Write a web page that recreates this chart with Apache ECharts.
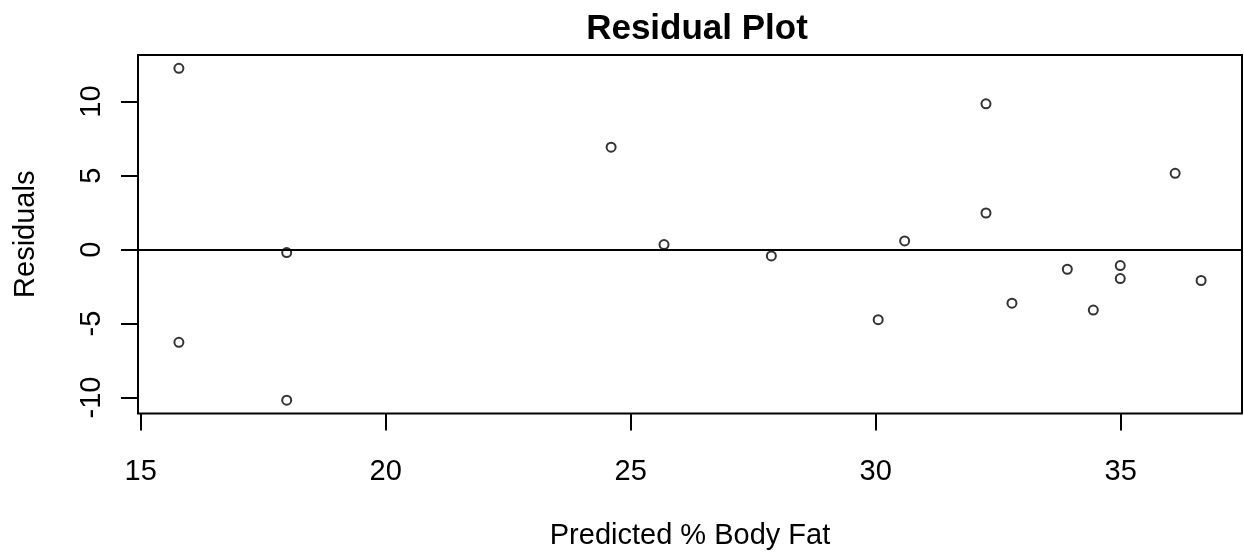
<html>
<head>
    <meta http-equiv="Content-Type" content="text/html; charset=utf-8" />
    <script type="text/javascript" src="https://cdn.jsdelivr.net/npm/echarts@6/dist/echarts.min.js"></script>
    <style>
        body { margin: 0; background: #fff; }
        #main { width: 1244px; height: 559px; }
    </style>
    <title>Residual Plot</title>
</head>
<body>
    <div id="main"></div>
    <script type="text/javascript">
        // predicted % body fat and residuals
        var predicted = [15.78, 15.78, 17.98, 17.98, 24.60, 25.68, 27.87, 30.05, 30.59, 32.25, 32.25, 32.78, 33.91, 34.44, 34.99, 34.99, 36.11, 36.64];
        var residuals = [12.25, -6.27, -0.20, -10.18, 6.92, 0.34, -0.43, -4.74, 0.58, 9.85, 2.47, -3.62, -1.33, -4.09, -1.08, -1.96, 5.15, -2.09];
        var xTicks = [15, 20, 25, 30, 35];
        var yTicks = [-10, -5, 0, 5, 10];

        var points = [];
        for (var i = 0; i < predicted.length; i++) {
            points.push([predicted[i], residuals[i]]);
        }

        // R style range: data range + 4% each side
        function padRange(arr) {
            var lo = Math.min.apply(null, arr), hi = Math.max.apply(null, arr);
            var d = (hi - lo) * 0.04;
            return [lo - d, hi + d];
        }
        var xr = padRange(predicted);
        var yr = padRange(residuals);

        var font = 'Liberation Sans, Arial, sans-serif';

        var option = {
            animation: false,
            title: {
                text: 'Residual Plot',
                left: 692,
                top: 7,
                textAlign: 'center',
                textStyle: { fontFamily: font, fontSize: 35, fontWeight: 'bold', color: '#000' }
            },
            grid: {
                left: 138, right: 2, top: 55, bottom: 145.5,
                show: true,
                borderColor: '#000',
                borderWidth: 2,
                containLabel: false,
                outerBoundsMode: 'none'
            },
            xAxis: {
                type: 'value',
                min: xr[0], max: xr[1],
                name: 'Predicted % Body Fat',
                nameLocation: 'middle',
                nameGap: 108,
                nameTextStyle: { fontFamily: font, fontSize: 29, color: '#000' },
                axisLine: { show: false, onZero: false },
                axisTick: { show: true, length: 17, customValues: xTicks, lineStyle: { color: '#000', width: 2 } },
                axisLabel: { customValues: xTicks, margin: 44, fontFamily: font, fontSize: 29, color: '#000' },
                splitLine: { show: false }
            },
            yAxis: {
                type: 'value',
                min: yr[0], max: yr[1],
                name: 'Residuals',
                nameLocation: 'middle',
                nameRotate: 90,
                nameGap: 98,
                nameTextStyle: { fontFamily: font, fontSize: 29, color: '#000' },
                axisLine: { show: false, onZero: false },
                axisTick: { show: true, length: 17, customValues: yTicks, lineStyle: { color: '#000', width: 2 } },
                axisLabel: { customValues: yTicks, rotate: 90, margin: 32, fontFamily: font, fontSize: 29, color: '#000' },
                splitLine: { show: false }
            },
            series: [{
                type: 'scatter',
                data: points,
                symbol: 'circle',
                symbolSize: 9,
                itemStyle: { color: 'transparent', borderColor: '#000', borderWidth: 2 },
                markLine: {
                    silent: true,
                    symbol: ['none', 'none'],
                    label: { show: false },
                    lineStyle: { color: '#000', width: 2, type: 'solid' },
                    data: [{ yAxis: 0 }]
                }
            }]
        };

        var myChart = echarts.init(document.getElementById('main'));
        myChart.setOption(option);
    </script>
</body>
</html>
